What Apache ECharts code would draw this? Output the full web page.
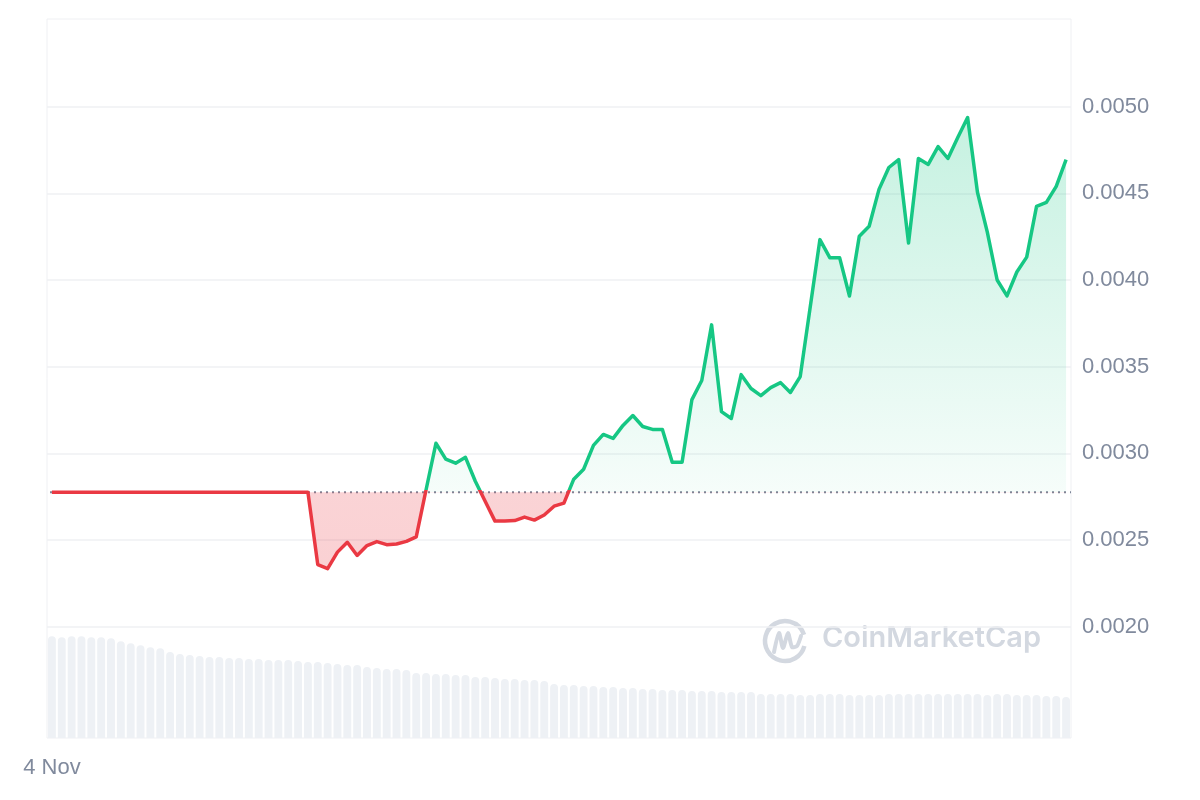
<!DOCTYPE html>
<html>
<head>
<meta charset="utf-8">
<title>Price chart</title>
<script src="https://cdn.jsdelivr.net/npm/echarts@6/dist/echarts.min.js"></script>
<style>
  html, body { margin: 0; padding: 0; background: #fff; }
  #main { width: 1200px; height: 800px; }
</style>
</head>
<body>
<div id="main"></div>
<script>
// opening price of the period, dotted reference line
var basePrice = 0.002776;

// price per slot
var prices = [
  0.002776, 0.002776, 0.002776, 0.002776, 0.002776, 0.002776, 0.002776, 0.002776, 0.002776,
  0.002776, 0.002776, 0.002776, 0.002776, 0.002776, 0.002776, 0.002776, 0.002776, 0.002776,
  0.002776, 0.002776, 0.002776, 0.002776, 0.002776, 0.002776, 0.002776, 0.002776, 0.002776,
  0.002358, 0.002335, 0.002430, 0.002487, 0.002411, 0.002468, 0.002491, 0.002473, 0.002477,
  0.002492, 0.002518, 0.002790,
  0.003058, 0.002967, 0.002943, 0.002977, 0.002839, 0.002724, 0.002609, 0.002609, 0.002612,
  0.002632, 0.002615, 0.002644, 0.002695, 0.002713,
  0.002851, 0.002908, 0.003046, 0.003109, 0.003086, 0.003161, 0.003218, 0.003155, 0.003138,
  0.003138, 0.002948, 0.002948,
  0.003310, 0.003420, 0.003741, 0.003241, 0.003201, 0.003454, 0.003374, 0.003333, 0.003379,
  0.003408, 0.003351, 0.003443,
  0.003839, 0.004233, 0.004129, 0.004129, 0.003908, 0.004253, 0.004310, 0.004523, 0.004649,
  0.004695, 0.004213, 0.004701, 0.004667, 0.004770, 0.004701, 0.004822, 0.004937, 0.004506,
  0.004276, 0.004000, 0.003908, 0.004046, 0.004132, 0.004425, 0.004448, 0.004540, 0.004695
];

// volume per slot (relative units)
var volumes = [
  10.2, 10.1, 10.2, 10.2, 10.1, 10.1, 10.0,
  9.7, 9.5, 9.3, 9.1, 9.0,
  8.6, 8.4, 8.3, 8.2,
  8.1, 8.1, 8.0, 8.0, 7.9, 7.9, 7.8, 7.8, 7.8, 7.7,
  7.6, 7.6, 7.5, 7.4, 7.3, 7.3,
  7.1, 7.0, 6.9, 6.9, 6.8,
  6.5, 6.5, 6.4, 6.4, 6.3, 6.3,
  6.1, 6.1, 6.0, 5.9, 5.9, 5.8, 5.8, 5.7,
  5.4, 5.3, 5.3, 5.2, 5.2, 5.1, 5.1, 5.0, 5.0,
  4.9, 4.9, 4.8, 4.8, 4.8, 4.7, 4.7, 4.7, 4.6, 4.6, 4.6, 4.6,
  4.4, 4.4, 4.4, 4.4, 4.3, 4.3, 4.4, 4.4, 4.4, 4.3, 4.3, 4.3,
  4.3, 4.4, 4.4, 4.4, 4.4, 4.4, 4.4, 4.4, 4.4, 4.4, 4.4, 4.3,
  4.4, 4.4, 4.3, 4.3, 4.3, 4.2, 4.2, 4.1
];

var xTickLabels = ['4 Nov'];
var yTickLabels = ['0.0020', '0.0025', '0.0030', '0.0035', '0.0040', '0.0045', '0.0050'];

var GREEN = '#16c784';
var RED = '#ea3943';
var GREY = '#808a9d';
var LINE_GREY = '#eff0f3';
var MARK = '#d3d8e0';
var FONT = '"Liberation Sans", Arial, sans-serif';

var slots = prices.map(function (v, i) { return String(i); });

var chart = echarts.init(document.getElementById('main'));

var option = {
  animation: false,
  backgroundColor: '#fff',
  grid: [
    // price grid runs past the bottom so its scale starts at a round value
    { left: 47, right: 129, top: 20, height: 784 },
    { left: 47, right: 129, top: 19, bottom: 62, show: true, borderColor: LINE_GREY, borderWidth: 1 }
  ],
  xAxis: [
    { type: 'category', gridIndex: 0, data: slots, boundaryGap: true, show: false },
    {
      type: 'category', gridIndex: 1, data: slots, boundaryGap: true,
      axisLine: { show: false }, axisTick: { show: false }, splitLine: { show: false },
      axisLabel: {
        interval: function (i) { return i < xTickLabels.length; },
        formatter: function (v, i) { return xTickLabels[i] || ''; },
        color: GREY, fontSize: 22, fontFamily: FONT, margin: 19
      }
    }
  ],
  yAxis: [
    {
      type: 'value', gridIndex: 0, position: 'right',
      min: 0.0010, max: 0.0055, interval: 0.0005,
      axisLine: { show: false }, axisTick: { show: false },
      splitLine: {
        lineStyle: {
          width: 1.5,
          // one colour per tick from min upwards; 0.0010, 0.0015 and 0.0055 hidden
          color: ['rgba(0,0,0,0)', 'rgba(0,0,0,0)', LINE_GREY, LINE_GREY, LINE_GREY,
                  LINE_GREY, LINE_GREY, LINE_GREY, LINE_GREY, 'rgba(0,0,0,0)']
        }
      },
      axisLabel: {
        margin: 11, color: GREY, fontSize: 22, fontFamily: FONT,
        formatter: function (v) {
          var s = v.toFixed(4);
          return yTickLabels.indexOf(s) >= 0 ? s : '';
        }
      }
    },
    { type: 'value', gridIndex: 1, min: 0, max: 72, show: false }
  ],
  graphic: [
    {
      id: 'logoRing', type: 'arc', z: 0, silent: true,
      shape: { cx: 785, cy: 641, r: 20, startAngle: 0.08 * Math.PI, endAngle: 1.9 * Math.PI, clockwise: true },
      style: { stroke: MARK, lineWidth: 4.5, fill: null }
    },
    {
      id: 'logoM', type: 'polyline', z: 0, silent: true,
      shape: { points: [[774, 652], [779, 633], [783, 648], [788, 633], [792, 647], [797, 646], [801, 636]], smooth: 0.25 },
      style: { stroke: MARK, lineWidth: 4, fill: null, lineCap: 'round', lineJoin: 'round' }
    },
    {
      id: 'logoText', type: 'text', z: 0, silent: true, left: 822, top: 624,
      style: { text: 'CoinMarketCap', fontSize: 29, fontWeight: 600, fontFamily: 'Inter, "Noto Sans", sans-serif', fill: MARK }
    }
  ],
  series: [
    {
      type: 'bar', xAxisIndex: 1, yAxisIndex: 1, data: volumes, silent: true, z: 1,
      barWidth: '80%',
      itemStyle: { color: '#eef1f5', borderRadius: [4, 4, 0, 0] }
    },
    {
      type: 'line', xAxisIndex: 0, yAxisIndex: 0, data: prices, z: 3,
      symbol: 'none', silent: true,
      lineStyle: { width: 3.5, color: GREEN, join: 'round' },
      areaStyle: { origin: basePrice, opacity: 1, color: 'rgba(22,199,132,0.2)' }
    }
  ]
};

chart.setOption(option);

// pixel rows of the price scale, used to split colours at the opening price
var yTop = chart.convertToPixel({ yAxisIndex: 0 }, 0.0055);
var yBot = chart.convertToPixel({ yAxisIndex: 0 }, 0.0010);
var yBase = chart.convertToPixel({ yAxisIndex: 0 }, basePrice);
var span = yBot - yTop;
var fLine = (yBase - 2 - yTop) / span;
var fArea = (yBase - yTop) / span;

var strokeGrad = new echarts.graphic.LinearGradient(0, yTop, 0, yBot, [
  { offset: 0, color: GREEN },
  { offset: fLine, color: GREEN },
  { offset: fLine, color: RED },
  { offset: 1, color: RED }
], true);

var fillGrad = new echarts.graphic.LinearGradient(0, yTop, 0, yBot, [
  { offset: 0, color: 'rgba(22,199,132,0.30)' },
  { offset: fArea, color: 'rgba(22,199,132,0.04)' },
  { offset: fArea, color: 'rgba(234,57,67,0.22)' },
  { offset: 1, color: 'rgba(234,57,67,0.28)' }
], true);

// dotted reference line across the plot at the opening price
var gridRect = chart.getModel().getComponent('grid', 0).coordinateSystem.getRect();

chart.setOption({
  series: [{}, { lineStyle: { color: strokeGrad }, areaStyle: { color: fillGrad } }],
  graphic: [{
    id: 'baseLine', type: 'line', z: 2, silent: true,
    shape: { x1: gridRect.x + 3, y1: yBase, x2: gridRect.x + gridRect.width, y2: yBase },
    style: { stroke: '#7d8598', lineWidth: 2, lineDash: [2, 4] }
  }]
});
</script>
</body>
</html>
